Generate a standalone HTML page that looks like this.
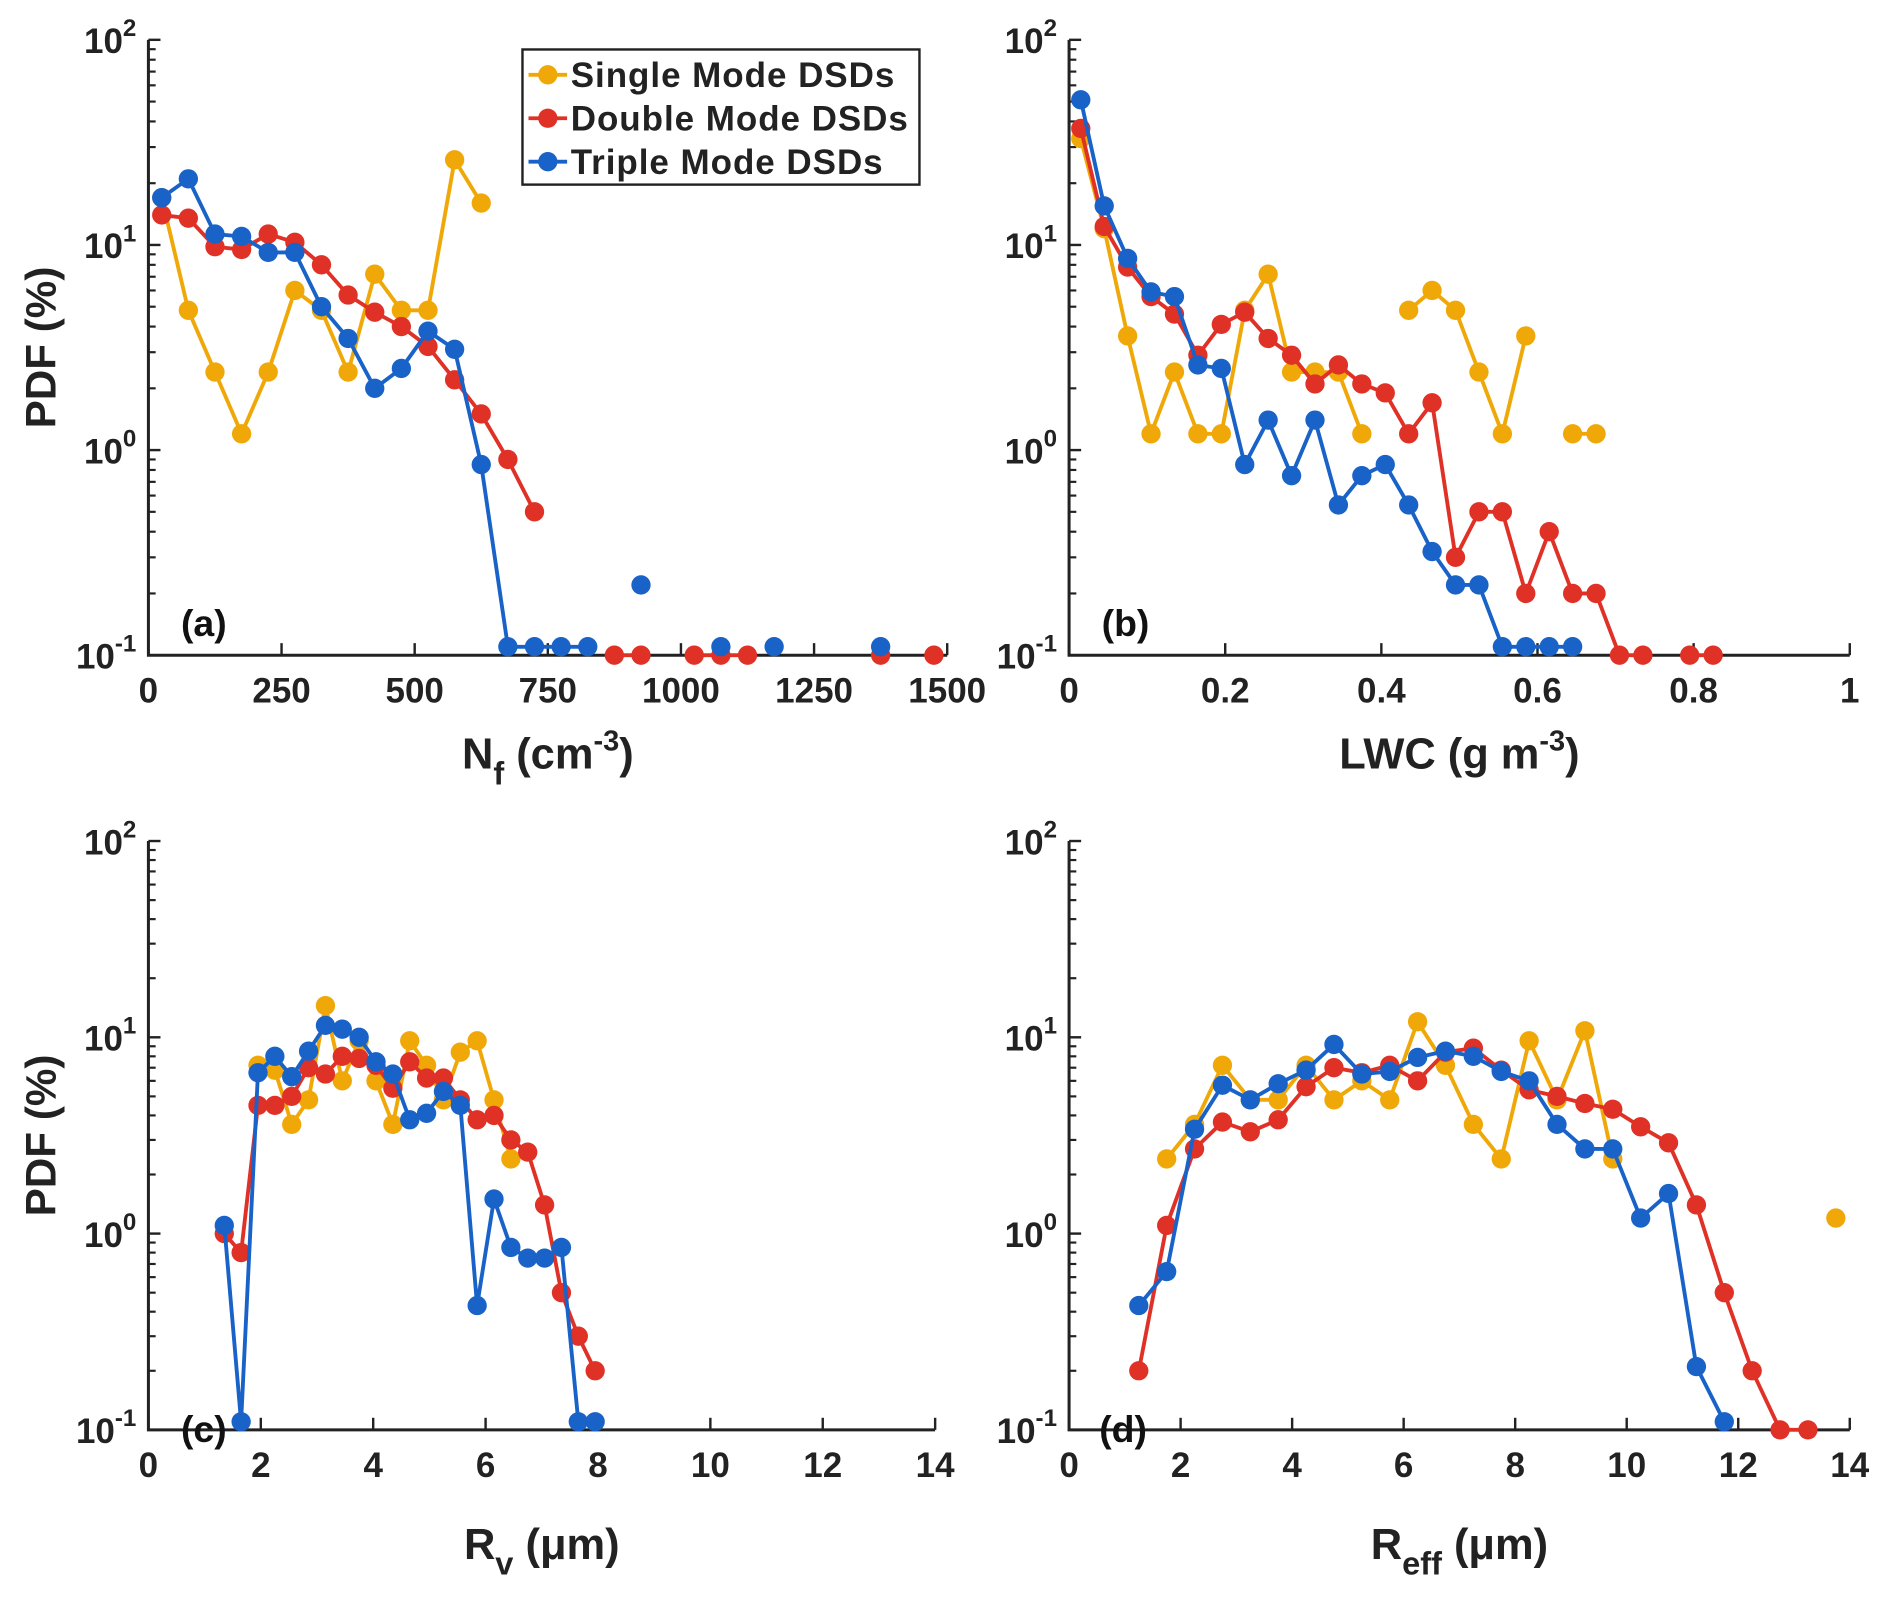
<!DOCTYPE html>
<html><head><meta charset="utf-8">
<style>
html,body{margin:0;padding:0;background:#fff;}
svg{display:block;font-family:"Liberation Sans",Arial,sans-serif;font-weight:bold;}
</style></head>
<body>
<svg id="fig" width="1892" height="1600" viewBox="0 0 1568 1326" xmlns="http://www.w3.org/2000/svg"></svg>
<script>
// ---- data ----
const aSingleX=[25,75,125,175,225,275,325,375,425,475,525,575,625];
const aSingleY=[17,4.8,2.4,1.2,2.4,6,4.8,2.4,7.2,4.8,4.8,26,16];
const aDoubleX=[25,75,125,175,225,275,325,375,425,475,525,575,625,675,725,875,925,1025,1075,1125,1375,1475];
const aDoubleY=[14,13.5,9.8,9.5,11.3,10.3,8,5.7,4.7,4,3.2,2.2,1.5,0.9,0.5,0.1,0.1,0.1,0.1,0.1,0.1,0.1];
const aTripleX=[25,75,125,175,225,275,325,375,425,475,525,575,625,675,725,775,825,925,1075,1175,1375];
const aTripleY=[17,21,11.3,11,9.2,9.2,5,3.5,2,2.5,3.8,3.1,0.85,0.11,0.11,0.11,0.11,0.22,0.11,0.11,0.11];

const bSingleX=[0.015,0.045,0.075,0.105,0.135,0.165,0.195,0.225,0.255,0.285,0.315,0.345,0.375,0.435,0.465,0.495,0.525,0.555,0.585,0.645,0.675];
const bSingleY=[33,12,3.6,1.2,2.4,1.2,1.2,4.8,7.2,2.4,2.4,2.4,1.2,4.8,6,4.8,2.4,1.2,3.6,1.2,1.2];
const bDoubleX=[0.015,0.045,0.075,0.105,0.135,0.165,0.195,0.225,0.255,0.285,0.315,0.345,0.375,0.405,0.435,0.465,0.495,0.525,0.555,0.585,0.615,0.645,0.675,0.705,0.735,0.795,0.825];
const bDoubleY=[37,12.3,7.8,5.6,4.6,2.9,4.1,4.7,3.5,2.9,2.1,2.6,2.1,1.9,1.2,1.7,0.3,0.5,0.5,0.2,0.4,0.2,0.2,0.1,0.1,0.1,0.1];
const bTripleX=[0.015,0.045,0.075,0.105,0.135,0.165,0.195,0.225,0.255,0.285,0.315,0.345,0.375,0.405,0.435,0.465,0.495,0.525,0.555,0.585,0.615,0.645];
const bTripleY=[51,15.5,8.6,5.9,5.6,2.6,2.5,0.85,1.4,0.75,1.4,0.54,0.75,0.85,0.54,0.32,0.22,0.22,0.11,0.11,0.11,0.11];

const cSingleX=[1.95,2.25,2.55,2.85,3.15,3.45,3.75,4.05,4.35,4.65,4.95,5.25,5.55,5.85,6.15,6.45];
const cSingleY=[7.2,6.8,3.6,4.8,14.5,6,9.6,6,3.6,9.6,7.2,4.8,8.4,9.6,4.8,2.4];
const cDoubleX=[1.35,1.65,1.95,2.25,2.55,2.85,3.15,3.45,3.75,4.05,4.35,4.65,4.95,5.25,5.55,5.85,6.15,6.45,6.75,7.05,7.35,7.65,7.95];
const cDoubleY=[1.0,0.8,4.5,4.5,5.0,7.0,6.5,8.0,7.8,7.2,5.5,7.5,6.2,6.2,4.8,3.8,4.0,3.0,2.6,1.4,0.5,0.3,0.2];
const cTripleX=[1.35,1.65,1.95,2.25,2.55,2.85,3.15,3.45,3.75,4.05,4.35,4.65,4.95,5.25,5.55,5.85,6.15,6.45,6.75,7.05,7.35,7.65,7.95];
const cTripleY=[1.1,0.11,6.6,8,6.3,8.5,11.5,11,10,7.5,6.5,3.8,4.1,5.3,4.5,0.43,1.5,0.85,0.75,0.75,0.85,0.11,0.11];

const dSingleX=[1.75,2.25,2.75,3.25,3.75,4.25,4.75,5.25,5.75,6.25,6.75,7.25,7.75,8.25,8.75,9.25,9.75,13.75];
const dSingleY=[2.4,3.6,7.2,4.8,4.8,7.2,4.8,6,4.8,12,7.2,3.6,2.4,9.6,4.8,10.8,2.4,1.2];
const dDoubleX=[1.25,1.75,2.25,2.75,3.25,3.75,4.25,4.75,5.25,5.75,6.25,6.75,7.25,7.75,8.25,8.75,9.25,9.75,10.25,10.75,11.25,11.75,12.25,12.75,13.25];
const dDoubleY=[0.2,1.1,2.7,3.7,3.3,3.8,5.6,7,6.6,7.2,6,8.4,8.8,6.8,5.4,5,4.6,4.3,3.5,2.9,1.4,0.5,0.2,0.1,0.1];
const dTripleX=[1.25,1.75,2.25,2.75,3.25,3.75,4.25,4.75,5.25,5.75,6.25,6.75,7.25,7.75,8.25,8.75,9.25,9.75,10.25,10.75,11.25,11.75];
const dTripleY=[0.43,0.64,3.4,5.7,4.8,5.8,6.8,9.2,6.5,6.7,7.9,8.5,8.0,6.7,6,3.6,2.7,2.7,1.2,1.6,0.21,0.11];

const aTicks=[0,250,500,750,1000,1250,1500];
const bTicks=[0,0.2,0.4,0.6,0.8,1];
const cTicks=[0,2,4,6,8,10,12,14];
const dTicks=[0,2,4,6,8,10,12,14];
const seriesNames=["Single Mode DSDs","Double Mode DSDs","Triple Mode DSDs"];

// ---- drawing ----
const NS="http://www.w3.org/2000/svg";
const svg=document.getElementById('fig');
const COLORS=["#F0A808","#E03127","#1862C8"];
function el(tag,attrs,parent){const e=document.createElementNS(NS,tag);for(const k in attrs)e.setAttribute(k,attrs[k]);(parent||svg).appendChild(e);return e;}

const panels=[
 {id:'a',x0:123,x1:785,xmin:0,xmax:1500,yTop:33,yBot:543,bw:50,ticks:aTicks,fmt:v=>String(v),xs:[aSingleX,aDoubleX,aTripleX],ys:[aSingleY,aDoubleY,aTripleY],xl:'N',sub:'f',rest:' (cm',sup:'-3',end:')',lx:150,ly:527,ylab:true,xlY:637},
 {id:'b',x0:886,x1:1533,xmin:0,xmax:1,yTop:33,yBot:543,bw:0.03,ticks:bTicks,fmt:v=>String(v),xs:[bSingleX,bDoubleX,bTripleX],ys:[bSingleY,bDoubleY,bTripleY],xl:'LWC (g m',sub:'',rest:'',sup:'-3',end:')',lx:913,ly:527,ylab:false,xlY:637},
 {id:'c',x0:123,x1:775,xmin:0,xmax:14,yTop:697,yBot:1185,bw:0.3,ticks:cTicks,fmt:v=>String(v),xs:[cSingleX,cDoubleX,cTripleX],ys:[cSingleY,cDoubleY,cTripleY],xl:'R',sub:'v',rest:' (μm)',sup:'',end:'',lx:150,ly:1195,ylab:true,xlY:1292},
 {id:'d',x0:886,x1:1533,xmin:0,xmax:14,yTop:697,yBot:1185,bw:0.5,ticks:dTicks,fmt:v=>String(v),xs:[dSingleX,dDoubleX,dTripleX],ys:[dSingleY,dDoubleY,dTripleY],xl:'R',sub:'eff',rest:' (μm)',sup:'',end:'',lx:911,ly:1195,ylab:false,xlY:1292}
];

panels.forEach(p=>{
 const g=el('g',{});
 
 
 const sx=v=>p.x0+(v-p.xmin)/(p.xmax-p.xmin)*(p.x1-p.x0);
 const dec=(p.yBot-p.yTop)/3;
 const sy=v=>p.yBot-(Math.log10(v)+1)*dec;
 const ax=el('path',{d:`M${p.x0},${p.yTop}V${p.yBot}H${p.x1}`,fill:'none',stroke:'#222','stroke-width':2.5},g);
 
 
 for(let e=-1;e<=2;e++){
  const y=sy(Math.pow(10,e));
  el('line',{x1:p.x0,x2:p.x0+10,y1:y,y2:y,stroke:'#222','stroke-width':2},g);
  const t=el('text',{x:p.x0-10,y:y+11,'text-anchor':'end','font-size':29,fill:'#222'},g);
  
  
  t.innerHTML='10<tspan dy="-14" font-size="20">'+e+'</tspan>';
  if(e<2)for(let m=2;m<=9;m++){const ym=sy(m*Math.pow(10,e));el('line',{x1:p.x0,x2:p.x0+6,y1:ym,y2:ym,stroke:'#222','stroke-width':1.8},g);}
 }
 p.ticks.forEach(v=>{
  const x=sx(v);
  el('line',{x1:x,x2:x,y1:p.yBot,y2:p.yBot-10,stroke:'#222','stroke-width':2},g);
  const t=el('text',{x:x,y:p.yBot+39,'text-anchor':'middle','font-size':29,fill:'#222'},g);
  
  
  t.textContent=p.fmt(v);
 });
 const xl=el('text',{x:(p.x0+p.x1)/2,y:p.xlY,'text-anchor':'middle','font-size':36,fill:'#222'},g);
 
 
 let h=p.xl;
 if(p.sub)h+='<tspan dy="13" font-size="27">'+p.sub+'</tspan><tspan dy="-13">'+p.rest+'</tspan>';
 if(p.sup)h+='<tspan dy="-15" font-size="24">'+p.sup+'</tspan><tspan dy="15">'+p.end+'</tspan>';
 xl.innerHTML=h;
 if(p.ylab){
  const yl=el('text',{x:0,y:0,transform:`translate(46,${(p.yTop+p.yBot)/2}) rotate(-90)`,'text-anchor':'middle','font-size':35,fill:'#222'},g);
  
  
  yl.textContent='PDF (%)';
 }
 const pl=el('text',{x:p.lx,y:p.ly,'font-size':31,fill:'#111'},g);
 
 
 pl.textContent='('+p.id+')';
 for(let s=0;s<3;s++){
  const xs=p.xs[s],ys=p.ys[s];
  const sg=el('g',{},g);
  
  
  let d='';
  for(let i=0;i<xs.length;i++){
   const cont=i>0&&Math.abs(xs[i]-xs[i-1]-p.bw)<p.bw*0.1;
   d+=(cont?'L':'M')+sx(xs[i]).toFixed(1)+','+sy(ys[i]).toFixed(1);
  }
  el('path',{d:d,fill:'none',stroke:COLORS[s],'stroke-width':3.2,'stroke-linejoin':'round'},sg);
  for(let i=0;i<xs.length;i++){
   const c=el('circle',{cx:sx(xs[i]),cy:sy(ys[i]),r:8,fill:COLORS[s]},sg);
   
   
  }
 }
});

const lg=el('g',{});


el('rect',{x:433,y:41,width:329,height:112,fill:'#fff',stroke:'#222','stroke-width':2},lg);
seriesNames.forEach((n,i)=>{
 const y=62+i*36;
 const e=el('g',{},lg);
 
 
 el('line',{x1:438,x2:470,y1:y,y2:y,stroke:COLORS[i],'stroke-width':3.2},e);
 el('circle',{cx:454,cy:y,r:8,fill:COLORS[i]},e);
 const t=el('text',{x:473,y:y+10,'font-size':29,'letter-spacing':'0.8',fill:'#222'},e);
 t.textContent=n;
});
</script>
</body></html>
